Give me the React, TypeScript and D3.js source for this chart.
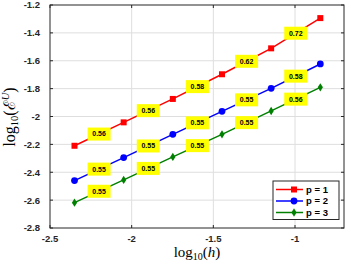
import React from 'react';
import * as d3 from 'd3';

// log10(h) for the six meshes
const logH = [-2.35, -2.049, -1.748, -1.447, -1.146, -0.845];

const seriesNames = ['p = 1', 'p = 2', 'p = 3'];
const seriesColors = ['#ff0000', '#0000ff', '#008000'];
const seriesMarkers = ['square', 'circle', 'diamond'];

const errP1 = [-2.21, -2.042, -1.874, -1.697, -1.511, -1.294];
const errP2 = [-2.46, -2.295, -2.128, -1.963, -1.798, -1.623];
const errP3 = [-2.618, -2.455, -2.29, -2.128, -1.96, -1.791];

// convergence rates shown on each segment
const rateP1 = ['0.56', '0.56', '0.58', '0.62', '0.72'];
const rateP2 = ['0.55', '0.55', '0.55', '0.55', '0.58'];
const rateP3 = ['0.55', '0.55', '0.55', '0.55', '0.56'];

const xTicks = [-2.5, -2, -1.5, -1];
const xTickLabels = ['-2.5', '-2', '-1.5', '-1'];
const yTicks = [-2.8, -2.6, -2.4, -2.2, -2, -1.8, -1.6, -1.4, -1.2];
const yTickLabels = ['-2.8', '-2.6', '-2.4', '-2.2', '-2', '-1.8', '-1.6', '-1.4', '-1.2'];

const W = 346;
const H = 264;
const left = 50;
const right = 344;
const top = 5;
const bottom = 228;

const axisColor = '#262626';
const sansBold = { fontFamily: 'Liberation Sans, Arial, sans-serif', fontWeight: 700 };
const serif = 'Liberation Serif, Times New Roman, serif';

function Marker({ kind, x, y, color }: { kind: string; x: number; y: number; color: string }) {
  if (kind === 'square') return <rect x={x - 3} y={y - 3} width={6} height={6} fill={color} />;
  if (kind === 'circle') return <circle cx={x} cy={y} r={3.4} fill={color} />;
  return <path d={`M${x},${y - 4.2}L${x + 2.6},${y}L${x},${y + 4.2}L${x - 2.6},${y}Z`} fill={color} />;
}

export default function App() {
  const x = d3.scaleLinear().domain([-2.5, -0.7]).range([left, right]);
  const y = d3.scaleLinear().domain([-2.8, -1.2]).range([bottom, top]);

  const series = [errP1, errP2, errP3];
  const rates = [rateP1, rateP2, rateP3];

  const line = d3
    .line<number>()
    .x((_, i) => x(logH[i]))
    .y((d) => y(d));

  return (
    <svg
      width={W}
      height={H}
      style={{ position: 'absolute', left: 0, top: 0, background: '#fff' }}
    >
      {/* grid */}
      {xTicks.slice(1).map((t) => (
        <line key={'gx' + t} x1={x(t)} x2={x(t)} y1={top} y2={bottom} stroke="#dedede" strokeWidth={1} />
      ))}
      {yTicks.slice(1, -1).map((t) => (
        <line key={'gy' + t} x1={left} x2={right} y1={y(t)} y2={y(t)} stroke="#dedede" strokeWidth={1} />
      ))}

      {/* series */}
      {series.map((vals, s) => (
        <g key={'s' + s}>
          <path d={line(vals) || ''} fill="none" stroke={seriesColors[s]} strokeWidth={1.5} />
          {vals.map((v, i) => (
            <Marker key={i} kind={seriesMarkers[s]} x={x(logH[i])} y={y(v)} color={seriesColors[s]} />
          ))}
        </g>
      ))}

      {/* rate labels */}
      {series.map((vals, s) =>
        rates[s].map((r, i) => {
          const cx = (x(logH[i]) + x(logH[i + 1])) / 2;
          const cy = (y(vals[i]) + y(vals[i + 1])) / 2;
          return (
            <g key={`r${s}-${i}`}>
              <rect x={cx - 11.5} y={cy - 6.5} width={23} height={13} fill="#ffff00" />
              <text x={cx} y={cy + 2.4} textAnchor="middle" fontSize={7} fill="#000" style={sansBold}>
                {r}
              </text>
            </g>
          );
        })
      )}

      {/* axes box and ticks */}
      <rect x={left} y={top} width={right - left} height={bottom - top} fill="none" stroke={axisColor} strokeWidth={1} />
      {xTicks.map((t) => (
        <g key={'tx' + t}>
          <line x1={x(t)} x2={x(t)} y1={bottom} y2={bottom - 3} stroke={axisColor} />
          <line x1={x(t)} x2={x(t)} y1={top} y2={top + 3} stroke={axisColor} />
        </g>
      ))}
      {yTicks.map((t) => (
        <g key={'ty' + t}>
          <line x1={left} x2={left + 3} y1={y(t)} y2={y(t)} stroke={axisColor} />
          <line x1={right} x2={right - 3} y1={y(t)} y2={y(t)} stroke={axisColor} />
        </g>
      ))}
      {xTicks.map((t, i) => (
        <text key={'lx' + t} x={x(t)} y={bottom + 13.5} textAnchor="middle" fontSize={9.5} fill={axisColor} style={sansBold}>
          {xTickLabels[i]}
        </text>
      ))}
      {yTicks.map((t, i) => (
        <text key={'ly' + t} x={left - 10} y={y(t) + 3.4} textAnchor="end" fontSize={9.5} fill={axisColor} style={sansBold}>
          {yTickLabels[i]}
        </text>
      ))}

      {/* axis titles */}
      <text x={197} y={257} textAnchor="middle" fontSize={15} fill="#000" fontFamily={serif}>
        log<tspan fontSize={10} dy={3}>10</tspan>
        <tspan dy={-3}>(</tspan>
        <tspan fontStyle="italic">h</tspan>)
      </text>
      <text
        transform="translate(15,117) rotate(-90)"
        textAnchor="middle"
        fontSize={16}
        fill="#000"
        fontFamily={serif}
      >
        log<tspan fontSize={10.5} dy={3}>10</tspan>
        <tspan dy={-3}>(ℰ</tspan>
        <tspan fontSize={10.5} dy={-6} fontStyle="italic">U</tspan>
        <tspan dy={6}>)</tspan>
      </text>

      {/* legend */}
      <rect x={273} y={181} width={66} height={38.5} fill="#fff" stroke={axisColor} strokeWidth={1} />
      {seriesNames.map((n, i) => {
        const ly = 189.5 + i * 11.5;
        return (
          <g key={'lg' + i}>
            <line x1={276} x2={303} y1={ly} y2={ly} stroke={seriesColors[i]} strokeWidth={1.5} />
            <Marker kind={seriesMarkers[i]} x={294} y={ly} color={seriesColors[i]} />
            <text x={306} y={ly + 3.4} fontSize={9.5} fill="#000" style={sansBold}>
              {n}
            </text>
          </g>
        );
      })}
    </svg>
  );
}
